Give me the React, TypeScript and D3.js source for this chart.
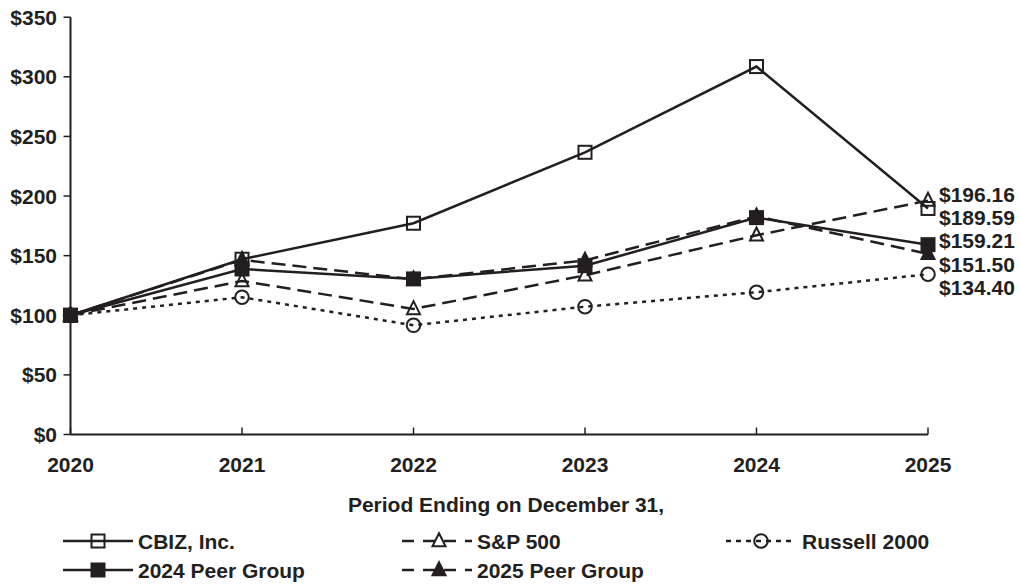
import React from "react";
import * as d3 from "d3";

const years = ["2020", "2021", "2022", "2023", "2024", "2025"];
const yTicks = [0, 50, 100, 150, 200, 250, 300, 350];

const cbiz = [100, 147, 177.2, 236.7, 308.6, 189.59];
const sp500 = [100, 128.8, 105.3, 133.5, 167.1, 196.16];
const russell = [100, 115.1, 91.6, 107.2, 119.3, 134.4];
const peer2024 = [100, 138.8, 130.5, 141.6, 181.9, 159.21];
const peer2025 = [100, 146.5, 130.2, 146, 183, 151.5];

type Marker = "openSquare" | "openTriangle" | "openCircle" | "filledSquare" | "filledTriangle";

const seriesNames = ["CBIZ, Inc.", "S&P 500", "Russell 2000", "2024 Peer Group", "2025 Peer Group"];
const seriesValues = [cbiz, sp500, russell, peer2024, peer2025];
const seriesMarkers: Marker[] = ["openSquare", "openTriangle", "openCircle", "filledSquare", "filledTriangle"];
const seriesDash = ["", "14,7", "4,5", "", "14,7"];

const INK = "#231f20";
const FONT = "'Liberation Sans', Arial, Helvetica, sans-serif";

const x = d3.scaleLinear().domain([0, years.length - 1]).range([70.5, 928]);
const y = d3.scaleLinear().domain([0, 350]).range([434.5, 17.2]);

function MarkerShape({ type, cx, cy }: { type: Marker; cx: number; cy: number }) {
  const s = 13;
  if (type === "openSquare" || type === "filledSquare") {
    const filled = type === "filledSquare";
    return (
      <rect
        x={cx - s / 2}
        y={cy - s / 2}
        width={s}
        height={s}
        fill={filled ? INK : "none"}
        stroke={INK}
        strokeWidth={2}
      />
    );
  }
  if (type === "openTriangle" || type === "filledTriangle") {
    const filled = type === "filledTriangle";
    const h = 13;
    const w = 13;
    const pts = `${cx},${cy - h * 0.6} ${cx + w / 2},${cy + h * 0.4} ${cx - w / 2},${cy + h * 0.4}`;
    return <polygon points={pts} fill={filled ? INK : "none"} stroke={INK} strokeWidth={2} strokeLinejoin="miter" />;
  }
  return <circle cx={cx} cy={cy} r={6.8} fill="none" stroke={INK} strokeWidth={2} />;
}

export default function App() {
  const line = d3
    .line<number>()
    .x((_, i) => x(i))
    .y((d) => y(d));

  // end labels, stacked to avoid overlap
  const last = seriesValues.map((v) => v[v.length - 1]);
  const order = d3.range(last.length).sort((a, b) => last[b] - last[a]);
  const labelPos: { v: number; yy: number }[] = [];
  let prev = -Infinity;
  order.forEach((idx) => {
    const yy = Math.max(y(last[idx]) + 1, prev + 23.3);
    labelPos.push({ v: last[idx], yy });
    prev = yy;
  });

  const legendItems = [
    { i: 0, x0: 63, x1: 133, mx: 98, tx: 138, yy: 541 },
    { i: 1, x0: 402, x1: 472, mx: 439, tx: 477, yy: 541 },
    { i: 2, x0: 726, x1: 795, mx: 761, tx: 802, yy: 541 },
    { i: 3, x0: 63, x1: 133, mx: 98, tx: 138, yy: 570 },
    { i: 4, x0: 402, x1: 472, mx: 439, tx: 477, yy: 570 },
  ];

  const legendDash = ["", "12,9", "5,5", "", "12,9"];
  const fs = 21;

  return (
    <svg
      width={1020}
      height={585}
      style={{ position: "absolute", left: 0, top: 0, background: "#fff" }}
      fontFamily={FONT}
      fontWeight="bold"
    >
      <rect width={1020} height={585} fill="#fff" />
      {/* axes */}
      <line x1={x(0)} x2={x(0)} y1={y(350)} y2={y(0)} stroke={INK} strokeWidth={2} />
      <line x1={x(0)} x2={x(5)} y1={y(0)} y2={y(0)} stroke={INK} strokeWidth={2} />
      {yTicks.map((t) => (
        <g key={t}>
          <line x1={x(0) - 7} x2={x(0)} y1={y(t)} y2={y(t)} stroke={INK} strokeWidth={1.5} />
          <text x={57} y={y(t)} dy="0.36em" textAnchor="end" fontSize={fs} fill={INK}>
            {"$" + t}
          </text>
        </g>
      ))}
      {years.map((yr, i) => (
        <g key={yr}>
          <line x1={x(i)} x2={x(i)} y1={y(0)} y2={y(0) - 7} stroke={INK} strokeWidth={1.5} />
          <text x={x(i)} y={471.5} textAnchor="middle" fontSize={fs} fill={INK}>
            {yr}
          </text>
        </g>
      ))}
      <text x={506} y={511.5} textAnchor="middle" fontSize={fs} fill={INK}>
        Period Ending on December 31,
      </text>

      {[2, 1, 4, 3, 0].map((si) => (
        <path
          key={"l" + si}
          d={line(seriesValues[si]) || ""}
          fill="none"
          stroke={INK}
          strokeWidth={2.5}
          strokeDasharray={seriesDash[si] || undefined}
        />
      ))}
      {[2, 1, 0, 4, 3].map((si) => (
        <g key={"m" + si}>
          {seriesValues[si].map((v, i) => (
            <MarkerShape key={i} type={seriesMarkers[si]} cx={x(i)} cy={y(v)} />
          ))}
        </g>
      ))}

      {/* end labels */}
      {labelPos.map((p, k) => (
        <text key={k} x={939} y={p.yy} fontSize={fs} fill={INK}>
          {"$" + d3.format(".2f")(p.v)}
        </text>
      ))}

      {/* legend */}
      {legendItems.map((it) => (
        <g key={"lg" + it.i}>
          <line
            x1={it.x0}
            x2={it.x1}
            y1={it.yy}
            y2={it.yy}
            stroke={INK}
            strokeWidth={2.5}
            strokeDasharray={legendDash[it.i] || undefined}
          />
          <MarkerShape type={seriesMarkers[it.i]} cx={it.mx} cy={it.yy} />
          <text x={it.tx} y={it.yy + 8} fontSize={fs} fill={INK}>
            {seriesNames[it.i]}
          </text>
        </g>
      ))}
    </svg>
  );
}
